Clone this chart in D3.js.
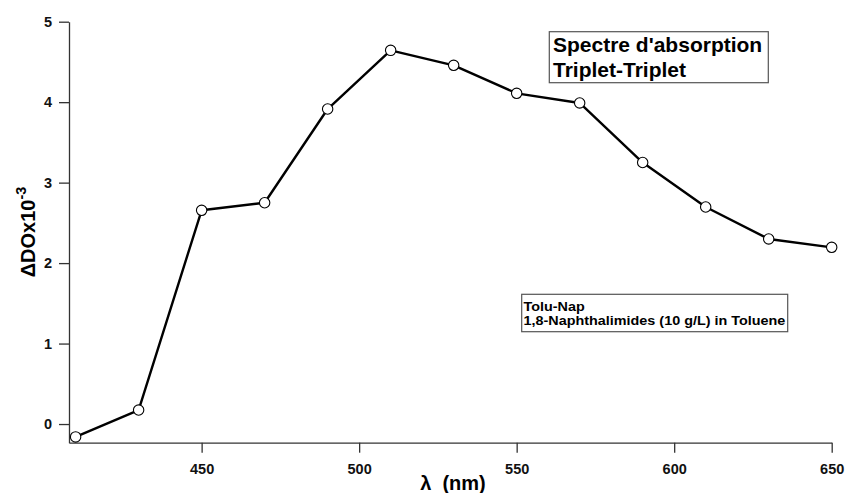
<!DOCTYPE html>
<html>
<head>
<meta charset="utf-8">
<script src="https://cdn.jsdelivr.net/npm/d3@7"></script>
<style>
  html, body { margin: 0; padding: 0; background: #fff; }
  svg { display: block; font-family: "Liberation Sans", Arial, Helvetica, sans-serif; }
</style>
</head>
<body>
<svg id="chart" width="845" height="493"></svg>
<script>
// Data
const wavelengths = [410, 430, 450, 470, 490, 510, 530, 550, 570, 590, 610, 630, 650];
const deltaOD = [-0.16, 0.174, 2.656, 2.75, 3.915, 4.644, 4.458, 4.11, 3.99, 3.25, 2.697, 2.30, 2.196];
const xTicks = [450, 500, 550, 600, 650];
const yTicks = [0, 1, 2, 3, 4, 5];
const titleLines = ["Spectre d'absorption", "Triplet-Triplet"];
const legendLines = ["Tolu-Nap", "1,8-Naphthalimides (10 g/L) in Toluene"];

const svg = d3.select("#chart");
const x = d3.scaleLinear().domain([407.9, 650]).range([69, 831.7]);
const y = d3.scaleLinear().domain([-0.232, 5]).range([442.7, 21.7]);

const axisColor = "#333";

// X axis
const gx = svg.append("g").attr("transform", `translate(0,${y.range()[0]})`)
  .call(d3.axisBottom(x).tickValues(xTicks).tickFormat(d3.format("d")).tickSize(10).tickPadding(11).tickSizeOuter(0));
gx.select(".domain").attr("stroke", axisColor).attr("stroke-width", 1.3);
gx.selectAll(".tick line").attr("stroke", axisColor).attr("stroke-width", 1.3);
gx.selectAll(".tick text").attr("font-size", 14.5).attr("font-weight", "bold").attr("fill", "#111")
  .attr("font-family", "Liberation Sans, Arial, sans-serif");

// Y axis
const gy = svg.append("g").attr("transform", `translate(${x.range()[0]},0)`)
  .call(d3.axisLeft(y).tickValues(yTicks).tickFormat(d3.format("d")).tickSize(10).tickPadding(7).tickSizeOuter(0));
gy.select(".domain").attr("stroke", axisColor).attr("stroke-width", 1.3);
gy.selectAll(".tick line").attr("stroke", axisColor).attr("stroke-width", 1.3);
gy.selectAll(".tick text").attr("font-size", 14.5).attr("font-weight", "bold").attr("fill", "#111")
  .attr("font-family", "Liberation Sans, Arial, sans-serif");

// Axis titles
svg.append("text")
  .attr("x", 453).attr("y", 490)
  .attr("text-anchor", "middle")
  .attr("font-size", 20).attr("font-weight", "bold")
  .style("white-space", "pre")
  .text("λ  (nm)");

const yt = svg.append("text")
  .attr("transform", "translate(35,232) rotate(-90)")
  .attr("text-anchor", "middle")
  .attr("font-size", 20).attr("font-weight", "bold");
yt.append("tspan").text("ΔDOx10");
yt.append("tspan").attr("dy", -9).attr("font-size", 14.5).text("-3");

// Line
const line = d3.line().x((d, i) => x(wavelengths[i])).y(d => y(d));
svg.append("path").datum(deltaOD)
  .attr("fill", "none").attr("stroke", "#000").attr("stroke-width", 2.4)
  .attr("stroke-linejoin", "round")
  .attr("d", line);

svg.append("g").selectAll("circle").data(deltaOD).join("circle")
  .attr("cx", (d, i) => x(wavelengths[i])).attr("cy", d => y(d))
  .attr("r", 5.2).attr("fill", "#fff").attr("stroke", "#000").attr("stroke-width", 1.1);

// Title box
svg.append("rect").attr("x", 549.3).attr("y", 31.7).attr("width", 219).attr("height", 51)
  .attr("fill", "#fff").attr("stroke", "#555").attr("stroke-width", 1.2);
svg.append("g").selectAll("text").data(titleLines).join("text")
  .attr("x", 553).attr("y", (d, i) => 52 + i * 25)
  .attr("font-size", 21).attr("font-weight", "bold").attr("fill", "#000")
  .text(d => d);

// Legend box
svg.append("rect").attr("x", 521.7).attr("y", 294.3).attr("width", 266).attr("height", 37.4)
  .attr("fill", "#fff").attr("stroke", "#555").attr("stroke-width", 1.2);
const lg = svg.append("g").attr("transform", "translate(523.5,0)");
const lt = lg.selectAll("text").data(legendLines).join("text")
  .attr("x", 0).attr("y", (d, i) => 311 + i * 14)
  .attr("font-size", 12.5).attr("font-weight", "bold").attr("fill", "#000")
  .text(d => d);
// stretch horizontally so the long line spans the box like the reference
const longLen = lt.nodes()[1].getComputedTextLength();
const k = 262 / longLen;
lg.attr("transform", `translate(523.5,0) scale(${k},1)`);
</script>
</body>
</html>
